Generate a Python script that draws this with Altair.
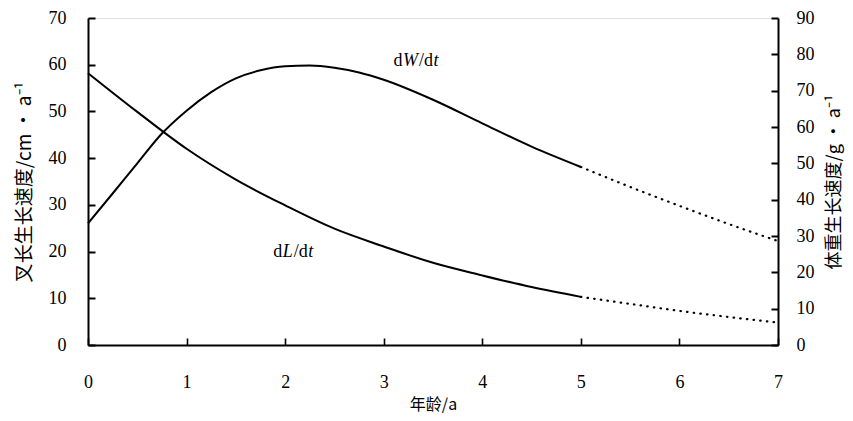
import altair as alt
import pandas as pd

# ---- data ----
age_L_solid = [0, 0.5, 1, 1.5, 2, 2.5, 3, 3.5, 4, 4.5, 5]
dL_solid = [58.2, 49.9, 42.0, 35.4, 29.9, 24.9, 21.1, 17.6, 14.9, 12.4, 10.3]
age_L_dot = [5, 5.5, 6, 6.5, 7]
dL_dot = [10.3, 8.8, 7.3, 6.0, 4.8]

age_W_solid = [0, 0.25, 0.5, 0.75, 1, 1.25, 1.5, 1.75, 2, 2.25, 2.5, 2.75, 3, 3.5, 4, 4.5, 5]
dW_solid = [33.5, 41.7, 50.0, 58.2, 64.5, 69.6, 73.4, 75.6, 76.7, 76.9, 76.3, 75.0, 73.0, 67.5, 61.0, 54.6, 49.0]
age_W_dot = [5, 5.5, 6, 6.5, 7]
dW_dot = [49.0, 43.5, 38.3, 33.3, 28.6]

x_ticks = [0, 1, 2, 3, 4, 5, 6, 7]
left_ticks = [0, 10, 20, 30, 40, 50, 60, 70]
right_ticks = [0, 10, 20, 30, 40, 50, 60, 70, 80, 90]

label_x = [3.1, 1.88]
label_y = [60.8, 19.9]

FONT = "Liberation Serif, Noto Sans CJK SC"
CJK = "Noto Sans CJK SC"

W, H = 690, 327
INWARD = alt.ExprRef("-7")

x_enc = alt.X(
    "x:Q",
    scale=alt.Scale(domain=[0, 7], nice=False, zero=False),
    axis=alt.Axis(
        values=x_ticks, format="d", ticks=True, tickSize=INWARD, tickWidth=1.6,
        tickColor="black", grid=False, domainColor="black", domainWidth=2,
        labelFont=FONT, labelFontSize=18, labelColor="black", labelPadding=35,
        labelFlush=False, title="年龄/a", titleFont=CJK, titleFontSize=16,
        titleFontWeight="normal", titleColor="black", titlePadding=5,
    ),
)

left_title = "叉长生长速度/cm · a⁻¹"
right_title = "体重生长速度/g · a⁻¹"

yL = alt.Y(
    "y:Q",
    scale=alt.Scale(domain=[0, 70], nice=False),
    axis=alt.Axis(
        orient="left", values=left_ticks, ticks=True, tickSize=INWARD, tickWidth=2,
        tickColor="black", grid=False,
        domainColor="black", domainWidth=2, labelFont=FONT, labelFontSize=18,
        labelColor="black", labelPadding=29, title=left_title, titleFont=CJK,
        titleFontSize=19, titleFontWeight="normal", titleColor="black", titlePadding=14,
    ),
)
yR = alt.Y(
    "y:Q",
    scale=alt.Scale(domain=[0, 90], nice=False),
    axis=alt.Axis(
        orient="right", values=right_ticks, ticks=True, tickSize=INWARD, tickWidth=2,
        tickColor="black", grid=False,
        domainColor="black", domainWidth=2, labelFont=FONT, labelFontSize=18,
        labelColor="black", labelPadding=25, title=right_title, titleFont=CJK,
        titleFontSize=18, titleFontWeight="normal", titleColor="black", titlePadding=11,
        titleAngle=-90, titleBaseline="top",
    ),
)

dfLs = pd.DataFrame({"x": age_L_solid, "y": dL_solid})
dfLd = pd.DataFrame({"x": age_L_dot, "y": dL_dot})
dfWs = pd.DataFrame({"x": age_W_solid, "y": dW_solid})
dfWd = pd.DataFrame({"x": age_W_dot, "y": dW_dot})

solid = dict(color="black", strokeWidth=2, interpolate="monotone")
dotted = dict(color="black", strokeWidth=2.2, interpolate="monotone",
              strokeDash=[0.5, 6.2], strokeCap="round")

Ls = alt.Chart(dfLs).mark_line(**solid).encode(x=x_enc, y=yL)
Ld = alt.Chart(dfLd).mark_line(**dotted).encode(x=x_enc, y=yL)

# annotations (pieces with italic variables)
def label(xv, yv, parts):
    layers = []
    off = 0
    for txt, italic, w in parts:
        df = pd.DataFrame({"x": [xv], "y": [yv], "t": [txt]})
        layers.append(
            alt.Chart(df).mark_text(
                font="Liberation Serif", fontSize=18, align="left", baseline="middle",
                fontStyle="italic" if italic else "normal", dx=off, color="black",
            ).encode(x=x_enc, y=yL, text="t:N")
        )
        off += w
    return layers

lab1 = label(label_x[0], label_y[0], [("d", False, 9.5), ("W", True, 16), ("/d", False, 14.5), ("t", True, 6)])
lab2 = label(label_x[1], label_y[1], [("d", False, 9.5), ("L", True, 11), ("/d", False, 14.5), ("t", True, 6)])

left = alt.layer(Ls, Ld, *lab1, *lab2)

Ws = alt.Chart(dfWs).mark_line(**solid).encode(x=x_enc, y=yR)
Wd = alt.Chart(dfWd).mark_line(**dotted).encode(x=x_enc, y=yR)
right = alt.layer(Ws, Wd)

chart = (
    alt.layer(left, right)
    .resolve_scale(y="independent")
    .properties(
        width=W, height=H,
        autosize=alt.AutoSizeParams(type="none"),
        padding={"left": 80, "top": 10, "right": 67, "bottom": 68},
    )
    .configure_view(stroke=None)
    .configure(background="white")
)

chart.save("out.html", embed_options={"renderer": "svg", "actions": False})
